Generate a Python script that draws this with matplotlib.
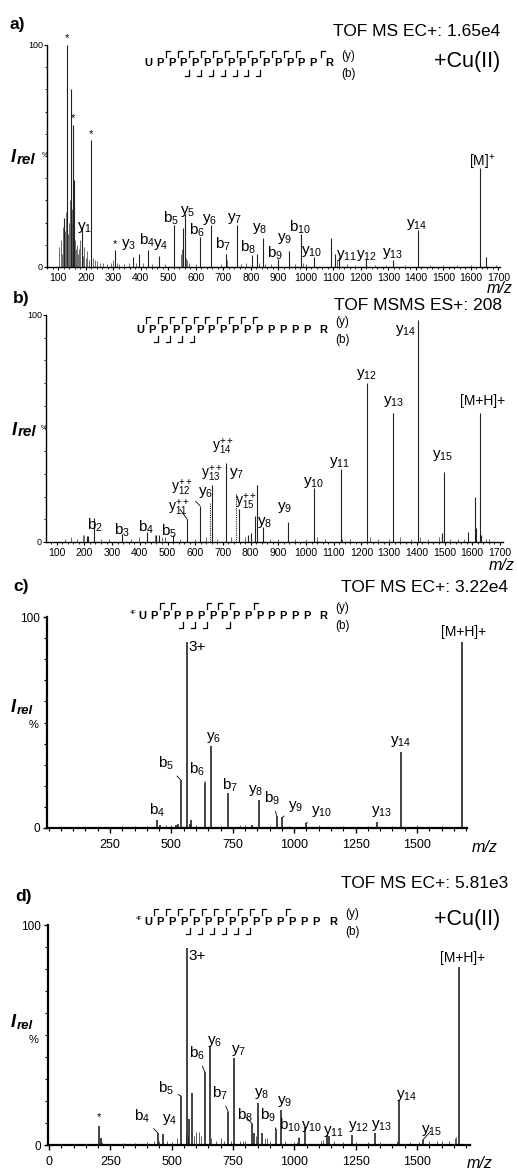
import matplotlib
matplotlib.use('Agg')
import matplotlib.pyplot as plt
from matplotlib.lines import Line2D
from matplotlib.ticker import MultipleLocator, FixedLocator

plt.rcParams['font.family'] = ['Liberation Sans', 'DejaVu Sans']
plt.rcParams['mathtext.fontset'] = 'custom'
plt.rcParams['mathtext.rm'] = 'Liberation Sans'
plt.rcParams['mathtext.it'] = 'Liberation Sans:italic'
plt.rcParams['mathtext.bf'] = 'Liberation Sans:bold'

SEQ = 'U' + 'P' * 14 + 'R'

# ---------------- panel a : TOF MS EC+ 1.65e4, +Cu(II)
a_mz = [121, 133, 145, 155, 157, 185, 219, 306, 372, 394, 427, 467, 521, 553, 561,
        615, 655, 710, 750, 804, 823, 843, 898, 938, 982, 1030, 1091, 1105, 1122,
        1219, 1317, 1409, 1633, 1655]
a_int = [22, 100, 80, 64, 39, 18, 57, 7.6, 4.6, 6, 7.7, 5, 19, 17.5, 24,
         13.5, 19, 6, 19, 5.4, 6, 13, 3.5, 7, 15, 4.5, 13, 6, 4.5,
         3.5, 3, 16.5, 44.5, 4.5]
a_minor_mz = [104, 108, 112, 116, 119, 124, 127, 130, 136, 139, 142, 148, 150, 152, 160,
              163, 167, 171, 176, 180, 190, 195, 200, 206, 212, 226, 233, 241, 250, 262,
              276, 290, 299, 312, 322, 340, 358, 382, 408, 440, 488, 545, 548, 565, 569,
              574, 600, 690, 714, 765, 782, 830, 852, 872, 960, 988, 1000, 1113, 1150, 1180,
              1250, 1290, 1360, 1450, 1500, 1550, 1600, 1690]
a_minor_int = [9, 12, 6, 18, 14, 16, 25, 12, 15, 20, 30, 20, 26, 14, 12,
               8, 10, 6, 8, 12, 5, 9, 4, 7, 3, 4, 3, 2.5, 2, 2,
               1.5, 2, 3, 2, 1.5, 1.5, 2, 2, 2, 1.5, 1.5, 6, 8, 4, 3,
               2, 1.5, 1.5, 3, 1.5, 2, 2, 1.5, 1.5, 1.5, 2, 1.5, 3, 1.5, 1,
               1, 1, 1, 1, 1, 1, 1, 1]
a_labels = [('y1', 197, 18, None), ('y3', 354, 10, None), ('b4', 422, 12, None),
            ('y4', 473, 10, None), ('b5', 510, 22, None), ('y5', 572, 25, None),
            ('b6', 606, 16.5, None), ('y6', 650, 21.5, None), ('b7', 699, 10, None),
            ('y7', 742, 22, None), ('b8', 790, 9, None), ('y8', 833, 17.5, None),
            ('b9', 888, 6.3, None), ('y9', 924, 13, None), ('b10', 979, 18, None),
            ('y10', 1022, 6.8, None), ('y11', 1149, 5.4, None), ('y12', 1222, 5.4, None),
            ('y13', 1317, 6.3, None), ('y14', 1404, 19, None), ('M+', 1641, 47, None),
            ('*', 133, 103, None), ('*', 155, 67, None), ('*', 219, 60, None),
            ('*', 306, 10.5, None)]
a_yions = [1, 3, 4, 5, 6, 7, 8, 9, 10, 11, 12, 13, 14]
a_bions = [4, 5, 6, 7, 8, 9, 10]
a_xticks = list(range(100, 1800, 100))

# ---------------- panel b : TOF MSMS ES+ 208
b_mz = [208, 212, 233, 335, 426, 460, 470, 520, 571, 617, 662, 712, 759, 791, 800,
        816, 822, 843, 935, 1030, 1126, 1220, 1314, 1404, 1490, 1499, 1583, 1610,
        1615, 1629, 1633]
b_int = [2.5, 2.5, 10.6, 3.5, 4.4, 3, 3, 3, 10, 16, 25, 35, 14.5, 3, 4,
         11.5, 25, 6.5, 9, 24, 32, 70, 57, 98, 4, 31, 4.4, 20,
         6, 57, 3]
b_dot_mz = [654, 749]
b_dot_int = [17, 21.5]
b_minor_mz = [130, 150, 175, 195, 200, 260, 290, 370, 398, 455, 480, 490, 545, 600, 640,
              680, 730, 780, 870, 900, 960, 1000, 1040, 1070, 1130, 1160, 1230, 1260, 1300,
              1340, 1380, 1410, 1440, 1480, 1520, 1550, 1570, 1650, 1660]
b_minor_int = [1.5, 2, 1.5, 3, 3, 1.5, 1.5, 1.5, 2, 3, 2, 2, 1.5, 1.5, 2,
               1.5, 2, 2, 1.5, 1.5, 1.5, 1.5, 2, 1.5, 1.5, 1.5, 2, 1.5, 1.5,
               2, 1.5, 2, 1.5, 2, 1.5, 1.5, 1.5, 1.5, 1.5]
b_labels = [('b2', 238, 7.5, None), ('b3', 336, 5.3, None), ('b4', 422, 6.6, None),
            ('b5', 506, 4.8, None), ('y11++', 542, 15, (571, 10)),
            ('y12++', 552, 24, (617, 16)), ('y6', 639, 21.6, None),
            ('y13++', 660, 30, None), ('y14++', 701, 42, None), ('y7', 751, 30, None),
            ('y15++', 784, 17.6, None), ('y8', 852, 8.8, None), ('y9', 921, 15, None),
            ('y10', 1026, 26, None), ('y11', 1120, 35, None), ('y12', 1220, 74, None),
            ('y13', 1315, 62, None), ('y14', 1361, 93, None), ('y15', 1494, 38, None),
            ('MH+', 1636, 62, None)]
b_yions = [6, 7, 8, 9, 10, 11, 12, 13, 14, 15]
b_bions = [2, 3, 4, 5]

# ---------------- panel c : TOF MS EC+ 3.22e4
c_mz = [440, 455, 520, 528, 538, 562, 575, 580, 638, 660, 732, 830, 857, 929, 952,
        1047, 1336, 1434, 1682]
c_int = [3.8, 1.5, 1.5, 2, 22.7, 88, 2, 4, 21.5, 39, 16.5, 1.5, 13.3, 5.7, 5,
         2.2, 2.8, 36, 88]
c_minor_mz = [300, 350, 400, 480, 500, 600, 700, 780, 800, 900, 980, 1100, 1200, 1300,
              1400, 1500, 1600]
c_minor_int = [0.8, 0.8, 1, 1.2, 1.5, 1.2, 1, 1.2, 1.5, 1, 1, 1.2, 0.8, 1, 0.8, 1.2, 0.8]
c_labels = [('b4', 440, 8.5, None), ('b5', 477, 30.6, (538, 22.7)), ('3+', 605, 86, None),
            ('b6', 605, 28, (638, 21.5)), ('y6', 670, 43, None), ('b7', 739, 20, None),
            ('y8', 845, 18, None), ('b9', 908, 14, (929, 5.7)),
            ('y9', 1007, 10, (952, 5)), ('y10', 1112, 7.6, (1047, 2.2)),
            ('y13', 1356, 7.7, None), ('y14', 1435, 41, None), ('MH+', 1691, 93, None)]
c_yions = [6, 8, 9, 10, 13, 14]
c_bions = [4, 5, 6, 8]
c_xticks = [250, 500, 750, 1000, 1250, 1500]

# ---------------- panel d : TOF MS EC+ 5.81e3, +Cu(II)
d_mz = [205, 210, 443, 466, 538, 561, 571, 583, 635, 656, 731, 754, 829, 836, 851,
        867, 925, 946, 1020, 1044, 1132, 1140, 1236, 1329, 1427, 1523, 1673]
d_int = [8.6, 3, 5.6, 5, 22.3, 89.4, 12, 23.6, 33.3, 45, 15, 39.4, 9.5, 5.3, 19,
         5.5, 7.3, 16, 3, 8, 4.5, 4, 4.5, 5.6, 20.5, 2.2, 80.8]
d_minor_mz = [215, 300, 350, 400, 430, 450, 480, 500, 520, 560, 566, 590, 600, 610, 620,
              660, 680, 700, 712, 740, 780, 790, 800, 845, 880, 890, 900, 960, 1000, 1010,
              1110, 1115, 1160, 1200, 1250, 1300, 1350, 1420, 1470, 1510, 1550, 1580, 1600,
              1630, 1655, 1660]
d_minor_int = [1.5, 1, 1, 1.5, 2, 2, 2, 1.5, 3, 5, 4, 4, 6, 6, 4,
               3, 2, 3, 2, 2, 2, 2, 2, 4, 3, 3, 2, 2, 1.5, 1.5,
               2, 2.5, 2, 1.5, 1.5, 1.5, 1.5, 2, 1.5, 1.5, 2, 2, 2,
               2, 3, 3.5]
d_labels = [('*', 205, 12.6, None), ('b4', 378, 12.9, (443, 5.6)), ('y4', 490, 11.4, None),
            ('b5', 477, 25.8, (538, 22.3)), ('b6', 602, 41.7, (635, 33.3)),
            ('y6', 674, 47, None), ('y7', 772, 43, None), ('b7', 697, 23.5, (731, 15)),
            ('b8', 799, 13.3, (829, 9.5)), ('y8', 867, 23.5, None),
            ('b9', 891, 13.6, (925, 7.3)), ('y9', 962, 19.7, None),
            ('b10', 982, 9, (1020, 3)), ('y10', 1071, 8.3, None), ('y11', 1159, 6, None),
            ('y12', 1261, 8.3, None), ('y13', 1356, 9, None), ('y14', 1458, 22.7, None),
            ('y15', 1560, 6.8, (1523, 2.2)), ('3+', 602, 86, None), ('MH+', 1686, 85, None)]
d_yions = [4, 6, 7, 8, 9, 10, 11, 12, 13, 14, 15]
d_bions = [4, 5, 6, 7, 8, 9]
d_xticks = [0, 250, 500, 750, 1000, 1250, 1500]

W, H = 518, 1171
fig = plt.figure(figsize=(W / 100, H / 100), dpi=100)
fig.patch.set_facecolor('white')


def fx(px):
    return px / W


def fy(py):
    return 1 - py / H


def ftext(px, py, s, **kw):
    fig.text(fx(px), fy(py), s, **kw)


def fline(xs, ys, lw=0.9):
    fig.add_artist(Line2D([fx(x) for x in xs], [fy(y) for y in ys],
                          transform=fig.transFigure, lw=lw, color='k'))


def fmt(name):
    if name == 'M+':
        return r'$\mathrm{[M]^{+}}$'
    if name == 'MH+':
        return '[M+H]+'
    if name in ('3+', '*'):
        return name
    ion, num = name[0], name[1:]
    if num.endswith('++'):
        return r'$\mathrm{%s^{++}_{%s}}$' % (ion, num[:-2])
    return r'$\mathrm{%s_{%s}}$' % (ion, num)


def make_ax(rect, xlim, ticks, minor, big):
    left, right, top, bot = rect
    ax = fig.add_axes([fx(left), fy(bot), (right - left) / W, (bot - top) / H])
    ax.patch.set_visible(False)
    ax.set_xlim(xlim)
    ax.set_ylim(0, 100)
    ax.spines['top'].set_visible(False)
    ax.spines['right'].set_visible(False)
    slw = 1.6 if big else 1.0
    ax.spines['left'].set_linewidth(slw)
    ax.spines['bottom'].set_linewidth(slw)
    ax.xaxis.set_major_locator(FixedLocator(ticks))
    ax.xaxis.set_minor_locator(MultipleLocator(minor))
    ax.set_yticks([0, 100])
    ax.set_yticklabels(['0', '100'])
    ax.yaxis.set_minor_locator(MultipleLocator(10))
    if big:
        ax.tick_params(axis='x', which='major', length=3.5, width=1.0, labelsize=9, pad=4.5)
        ax.tick_params(axis='x', which='minor', length=2.3, width=0.8)
        ax.tick_params(axis='y', which='major', length=3, width=1.0, labelsize=8.5, pad=2)
        ax.tick_params(axis='y', which='minor', length=2, width=0.8)
    else:
        ax.tick_params(axis='x', which='major', length=2.5, width=0.8, labelsize=7.5, pad=1.5)
        ax.tick_params(axis='x', which='minor', length=1.5, width=0.6)
        ax.tick_params(axis='y', which='major', length=2, width=0.8, labelsize=6.5, pad=1)
        ax.tick_params(axis='y', which='minor', length=1.5, width=0.6)
    return ax


def peaks(ax, mz, inten, lw, color, ls='-'):
    ax.vlines(mz, 0, inten, colors=color, lw=lw, linestyles=ls)


def labels(ax, labs, fs):
    for name, m, y, tgt in labs:
        s = fmt(name)
        size = fs
        if name == '*':
            size = 8
        elif name in ('MH+', 'M+'):
            size = fs - 1
        elif name.endswith('++'):
            size = fs - 1
        if tgt is None:
            ax.text(m, y, s, ha='center', va='center', fontsize=size, clip_on=False)
        else:
            ax.annotate(s, xy=tgt, xytext=(m, y), ha='center', va='center', fontsize=size,
                        arrowprops=dict(arrowstyle='-', lw=0.6, color='k',
                                        shrinkA=1, shrinkB=0))


def sequence(x0, step, lc, yions, bions, prefix=False):
    xs = [x0 + step * i for i in range(15)] + [x0 + step * 15.4]
    for ch, x in zip(SEQ, xs):
        ftext(x, lc, ch, ha='center', va='center', fontsize=8, fontweight='bold')
    if prefix:
        ftext(xs[0] - 6, lc - 3, '4F', ha='right', va='center', fontsize=4)
    gaps = {k: (xs[k - 1] + xs[k]) / 2 for k in range(1, 16)}
    for n in yions:
        g = gaps[16 - n]
        fline([g, g, g + 4], [lc - 7, lc - 13, lc - 13])
    for n in bions:
        g = gaps[n]
        fline([g - 4, g, g], [lc + 12, lc + 12, lc + 6])
    ftext(xs[-1] + 12, lc - 8, '(y)', ha='left', va='center', fontsize=8.5)
    ftext(xs[-1] + 12, lc + 10, '(b)', ha='left', va='center', fontsize=8.5)


def irel(px, base, fs_i, fs_rel, drop):
    ftext(px, base, 'I', ha='left', va='baseline', fontsize=fs_i,
          fontstyle='italic', fontweight='bold')
    ftext(px + 6, base + drop, 'rel', ha='left', va='baseline', fontsize=fs_rel,
          fontstyle='italic', fontweight='bold')


# ---- panel a
ax = make_ax((47, 500, 45, 267), (58.9, 1706), a_xticks, 20, False)
peaks(ax, a_minor_mz, a_minor_int, 0.6, '#555555')
peaks(ax, a_mz, a_int, 0.8, '#222222')
labels(ax, a_labels, 11)
sequence(148, 11.8, 63.5, a_yions, a_bions)
ftext(10, 25, 'a)', ha='left', va='center', fontsize=12.5, fontweight='bold')
ftext(500, 32, 'TOF MS EC+: 1.65e4', ha='right', va='center', fontsize=12.5)
ftext(500, 62, '+Cu(II)', ha='right', va='center', fontsize=15.5)
ftext(513, 288, 'm/z', ha='right', va='center', fontsize=11.5, fontstyle='italic')
irel(11, 162, 13, 11, 1.5)
ftext(44.5, 156, '%', ha='center', va='center', fontsize=5)

# ---- panel b
ax = make_ax((46, 503, 315, 542), (61.4, 1711), a_xticks, 20, False)
peaks(ax, b_minor_mz, b_minor_int, 0.6, '#555555')
peaks(ax, b_mz, b_int, 0.8, '#222222')
peaks(ax, b_dot_mz, b_dot_int, 0.8, '#222222', ls=(0, (1, 1)))
labels(ax, b_labels, 11)
sequence(140, 11.9, 330, b_yions, b_bions)
ftext(13, 298, 'b)', ha='left', va='center', fontsize=12.5, fontweight='bold')
ftext(502, 305, 'TOF MSMS ES+: 208', ha='right', va='center', fontsize=12.5)
ftext(515, 566, 'm/z', ha='right', va='center', fontsize=11.5, fontstyle='italic')
irel(12, 435, 13, 11, 1.5)
ftext(43.5, 428.5, '%', ha='center', va='center', fontsize=5)

# ---- panel c
ax = make_ax((47, 467, 617, 828), (-6.5, 1703.6), c_xticks, 50, True)
peaks(ax, c_minor_mz, c_minor_int, 0.6, '#444444')
peaks(ax, c_mz, c_int, 1.1, '#111111')
labels(ax, c_labels, 11)
sequence(142, 11.75, 616, c_yions, c_bions, prefix=True)
ftext(13, 587, 'c)', ha='left', va='center', fontsize=12.5, fontweight='bold')
ftext(508, 587, 'TOF MS EC+: 3.22e4', ha='right', va='center', fontsize=12.5)
ftext(485, 847, 'm/z', ha='center', va='center', fontsize=11.5, fontstyle='italic')
irel(11, 712, 13, 9.5, 2)
ftext(34, 725, '%', ha='center', va='center', fontsize=8)

# ---- panel d
ax = make_ax((48, 470, 925, 1145), (-4, 1716), d_xticks, 50, True)
peaks(ax, d_minor_mz, d_minor_int, 0.6, '#444444')
peaks(ax, d_mz, d_int, 1.1, '#111111')
labels(ax, d_labels, 11)
sequence(148, 12.0, 922, d_yions, d_bions, prefix=True)
ftext(15, 897, 'd)', ha='left', va='center', fontsize=12.5, fontweight='bold')
ftext(508, 884, 'TOF MS EC+: 5.81e3', ha='right', va='center', fontsize=12.5)
ftext(500, 920, '+Cu(II)', ha='right', va='center', fontsize=15.5)
ftext(480, 1163, 'm/z', ha='center', va='center', fontsize=11.5, fontstyle='italic')
irel(11, 1027, 13, 9.5, 2)
ftext(34, 1040, '%', ha='center', va='center', fontsize=8)

fig.savefig('out.png', dpi=100, facecolor='white')
